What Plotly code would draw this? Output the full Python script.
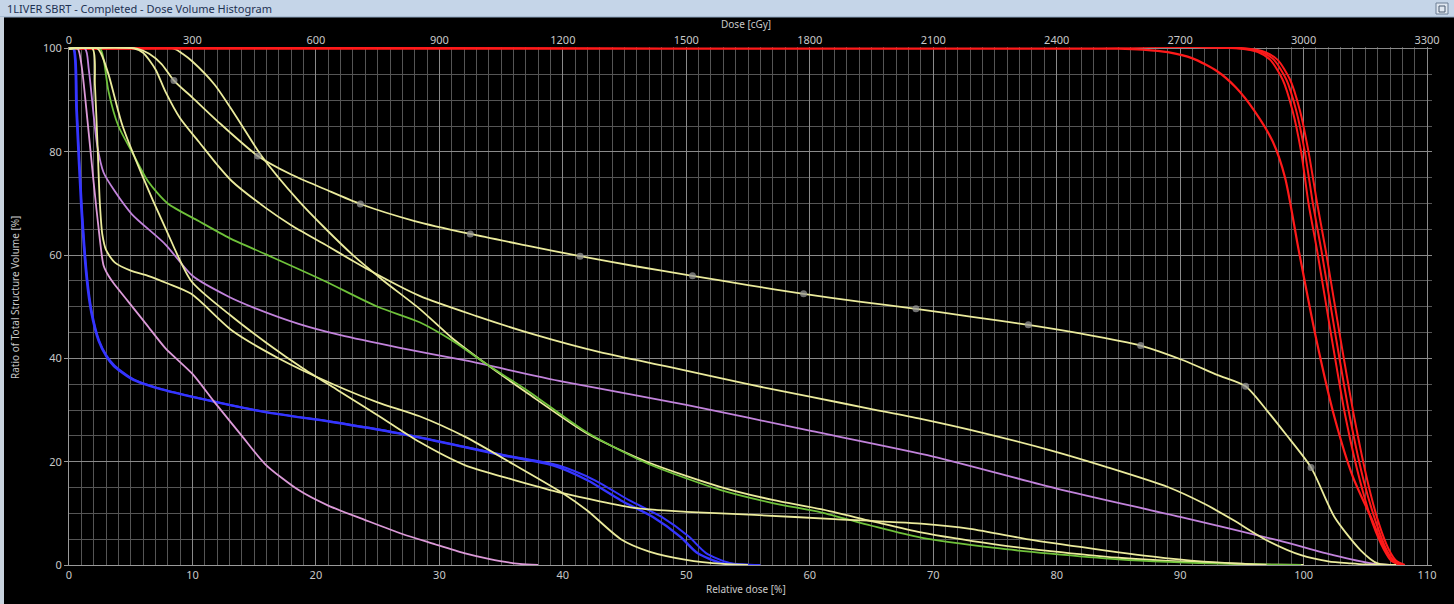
import plotly.graph_objects as go

# ---------------- data ----------------
rel_dose_ticks = [0, 10, 20, 30, 40, 50, 60, 70, 80, 90, 100, 110]
dose_cgy_ticks = [0, 300, 600, 900, 1200, 1500, 1800, 2100, 2400, 2700, 3000, 3300]
volume_ticks = [0, 20, 40, 60, 80, 100]

# yellow structure that leaves 100% latest (drawn beneath the PTV curves)
yc_x = [0, 8.5, 9.2, 10, 11.8, 13.5, 15.6, 18.6, 20.7, 23, 25.5, 28.4, 31, 33.8, 37, 42, 47, 52.8, 57, 60.9, 65, 69, 75, 79.5, 85, 89, 94, 98, 100]
yc_y = [100, 100, 99, 97.5, 93, 87, 79.2, 70.5, 65.3, 60, 55, 49.6, 44, 38.9, 33.5, 25.4, 19.8, 15.1, 12.6, 10.8, 8.5, 6.3, 4.0, 2.7, 1.4, 0.8, 0.3, 0.05, 0]

# PTV curves (red)
r1_x = [0, 85, 87, 89, 91, 93, 94.5, 96, 97.5, 98.5, 99.6, 101, 102.5, 104, 105.5, 106.5, 107.3, 108]
r1_y = [100, 100, 99.8, 99.3, 98.1, 95.6, 92.5, 88, 82, 75, 61, 44, 28.6, 17, 9, 3.5, 0.8, 0]
r2_x = [0, 94.8, 96.3, 97.3, 98.3, 99.1, 99.8, 100.4, 101.1, 102.2, 103.4, 104.6, 105.6, 106.5, 107.1, 107.8]
r2_y = [100, 100, 99.3, 97.8, 94, 88, 80, 70, 60.8, 45, 28.6, 16, 8, 3, 0.8, 0]
r3_x = [0, 95.1, 96.6, 97.6, 98.6, 99.4, 100.1, 100.75, 101.45, 102.55, 103.75, 104.9, 105.9, 106.7, 107.3, 108]
r3_y = [100, 100, 99.3, 97.8, 94, 88, 80, 70, 60.8, 45, 28.6, 16, 8, 3, 0.8, 0]
r4_x = [0, 95.4, 96.9, 97.9, 98.9, 99.7, 100.4, 101.1, 101.8, 102.9, 104.1, 105.2, 106.1, 106.9, 107.5, 108.2]
r4_y = [100, 100, 99.3, 97.8, 94, 88, 80, 70, 60.8, 45, 28.6, 16, 8, 3, 0.8, 0]

# blue structures
b1_x = [0, 0.35, 0.6, 1.0, 1.45, 1.8, 2.4, 3.0, 3.6, 5.1, 7.5, 10.1, 15.9, 21.3, 26.7, 32.1, 35.2, 39.2, 42, 44.7, 47.3, 49.5, 50.9, 52.8, 55]
b1_y = [100, 100, 88, 69, 55, 49, 43.4, 40.5, 38.6, 36, 34, 32.5, 29.6, 27.7, 25.5, 22.8, 21.2, 19.3, 16.4, 12.5, 9.3, 5.5, 2.3, 0.4, 0]
b2_x = [0, 0.4, 0.65, 1.05, 1.5, 1.85, 2.45, 3.05, 3.7, 5.2, 7.6, 10.2, 16, 21.4, 26.8, 32.2, 35.4, 39.6, 42.6, 45.4, 48, 50.2, 51.6, 53.5, 56]
b2_y = [100, 100, 88, 69, 55, 49, 43.4, 40.5, 38.6, 36, 34, 32.5, 29.6, 27.7, 25.5, 22.8, 21.2, 19.3, 16.4, 12.5, 9.3, 5.5, 2.3, 0.4, 0]

# pink / lavender structures
p1_x = [0, 0.7, 1.0, 1.5, 2.0, 2.5, 2.8, 3.2, 3.6, 4.8, 6.3, 7.8, 10, 11.8, 14, 15.9, 18.6, 21, 24, 27, 29.4, 32, 34, 36.5, 38]
p1_y = [100, 100, 97, 86, 74, 63, 58, 56, 54.6, 51, 46.5, 42, 37, 31.5, 25, 19.5, 14.5, 11.5, 8.7, 6, 4.2, 2.3, 1.2, 0.2, 0]
p2_x = [0, 1.3, 1.6, 2.0, 2.3, 2.8, 3.7, 5.1, 7.8, 10, 12.9, 15, 18.6, 22, 26.7, 32.1, 40, 50, 60, 70, 80, 90, 97.9, 102.4, 105.5, 107]
p2_y = [100, 100, 96, 87, 81, 76, 72.4, 67.9, 62.1, 56, 52, 49.8, 46.7, 44.5, 42.1, 39.6, 35.5, 31, 26, 21, 14.8, 9.3, 4.8, 1.9, 0.3, 0]

# green structure
g_x = [0, 2.5, 2.8, 3.2, 4.0, 5.1, 6.4, 8, 10.5, 13, 15.9, 20.7, 25, 28.4, 31, 33.8, 37, 42, 47, 52.8, 57, 60.9, 65, 69, 75, 79.5, 85, 89, 94, 99.8]
g_y = [100, 100, 98, 91.7, 85, 80, 74.3, 70, 66.6, 63.3, 60.2, 55, 50, 47, 43.5, 38.9, 34, 25.6, 19.5, 14.5, 12, 10.2, 7.6, 5.3, 3.3, 2.2, 1.1, 0.6, 0.2, 0]

# other yellow structures
yd_x = [0, 2.3, 2.6, 3.2, 4.3, 5.9, 7.8, 9.9, 13, 16, 19, 21.8, 25, 28.4, 32.1, 36, 40, 46, 50, 55.5, 62, 69, 73, 78.1, 84, 89, 93, 97]
yd_y = [100, 100, 99, 95, 85.3, 75.6, 65.3, 55, 48.5, 43, 38, 33.8, 29, 23.8, 19.3, 16.5, 13.9, 11, 10.3, 9.7, 8.9, 8, 7, 4.8, 2.8, 1.3, 0.5, 0]
ye_x = [0, 1.9, 2.1, 2.3, 2.5, 2.7, 3.0, 3.7, 5, 6.4, 8, 9.9, 13.2, 17, 21.3, 25, 28.4, 32.1, 36, 40, 42, 44.7, 47, 50, 53, 55]
ye_y = [100, 100, 93, 82, 70, 64, 61, 58.6, 57, 56, 54.5, 52.5, 45.4, 40, 35.1, 31.5, 28.8, 24.8, 19.5, 13.9, 10.5, 5, 2.6, 1, 0.2, 0]
yb_x = [0, 5.3, 6, 7, 7.8, 9, 10.5, 12, 13.2, 15.9, 18, 20.7, 24, 28.4, 33, 38, 43, 48.7, 55, 60, 65, 69, 74, 79.5, 84, 89, 92, 94.3, 97, 99.8, 102, 103.8, 105, 107]
yb_y = [100, 100, 99.2, 96, 91.7, 86.5, 82, 77.5, 74.3, 69.2, 65.8, 62.1, 57.5, 52.1, 48.2, 44.4, 41.2, 38.3, 35, 32.6, 30.2, 28.3, 25.6, 22.2, 19, 15.1, 11.8, 8.7, 4.8, 1.9, 0.7, 0.3, 0.1, 0]
ym_x = [0, 5.5, 6.5, 7.5, 8.5, 10, 12, 15.3, 18, 20.7, 23.6, 28, 32.5, 37, 41.4, 46, 50.5, 55, 59.5, 64, 68.6, 73, 77.7, 82, 86.8, 90.3, 93, 95.3, 97, 98.5, 100.6, 102.5, 104.6, 106, 107.5]
ym_y = [100, 100, 99, 97, 93.8, 90.5, 86, 79.2, 75.6, 72.8, 69.9, 66.6, 64.1, 61.9, 59.8, 57.8, 56, 54.2, 52.5, 51, 49.6, 48.1, 46.5, 44.8, 42.5, 39.6, 36.8, 34.6, 30, 25.5, 18.9, 9.3, 2.9, 0.3, 0]
mark_x = [8.5, 15.3, 23.6, 32.5, 41.4, 50.5, 59.5, 68.6, 77.7, 86.8, 95.3, 100.6]
mark_y = [93.8, 79.2, 69.9, 64.1, 59.8, 56, 52.5, 49.6, 46.5, 42.5, 34.6, 18.9]

# ---------------- styling ----------------
RED = "#ff1a1a"
BLUE = "#3535ff"
PINK1 = "#dc9ad8"
PINK2 = "#c283dc"
GREEN = "#6fc23a"
YELLOW = "#ebeb9c"
TICK = "#c8c8c8"
FONT = "Noto Sans"

fig = go.Figure()


def add(x, y, color, width=1.8):
    fig.add_trace(go.Scatter(x=x, y=y, mode="lines", line=dict(color=color, width=width, shape="spline", smoothing=0.7),
                             hoverinfo="skip", showlegend=False))


add(yc_x, yc_y, YELLOW)
add(r1_x, r1_y, RED, 2.2)
add(r2_x, r2_y, RED, 2.0)
add(r3_x, r3_y, RED, 2.0)
add(r4_x, r4_y, RED, 2.0)
add(b1_x, b1_y, BLUE, 2.4)
add(b2_x, b2_y, BLUE, 2.0)
add(p1_x, p1_y, PINK1)
add(p2_x, p2_y, PINK2)
add(g_x, g_y, GREEN)
add(yd_x, yd_y, YELLOW)
add(ye_x, ye_y, YELLOW)
add(yb_x, yb_y, YELLOW)
add(ym_x, ym_y, YELLOW)
fig.add_trace(go.Scatter(x=mark_x, y=mark_y, mode="markers",
                         marker=dict(size=7, color="rgba(150,150,150,0.75)"),
                         hoverinfo="skip", showlegend=False))
# invisible trace to anchor the top (cGy) axis
fig.add_trace(go.Scatter(x=[0], y=[0], xaxis="x2", mode="markers", marker=dict(opacity=0),
                         hoverinfo="skip", showlegend=False))

XMAX = 110.4
L, R, T, B = 69, 22, 47, 39
W, H = 1454, 604
pw, ph = W - L - R, H - T - B


def px(xp):
    return (xp - L) / pw


def py(yp):
    return (H - B - yp) / ph


fig.update_layout(
    width=W, height=H,
    margin=dict(l=L, r=R, t=T, b=B, autoexpand=False),
    paper_bgcolor="#000000", plot_bgcolor="#000000",
    font=dict(family=FONT, size=11, color=TICK),
    xaxis=dict(range=[0, XMAX], tickvals=rel_dose_ticks, ticktext=[str(v) for v in rel_dose_ticks],
               showgrid=True, gridcolor="#8a8a8a", gridwidth=1, automargin=False,
               minor=dict(dtick=1, showgrid=True, gridcolor="#555555", gridwidth=1),
               showline=True, linecolor="#9a9a9a", linewidth=1, zeroline=False,
               ticks="", tickfont=dict(size=11, color=TICK, family=FONT)),
    xaxis2=dict(overlaying="x", side="top", range=[0, XMAX * 30], tickvals=dose_cgy_ticks,
                ticktext=[str(v) for v in dose_cgy_ticks], showgrid=False, zeroline=False, automargin=False,
                ticks="", tickfont=dict(size=11, color=TICK, family=FONT), showline=False),
    yaxis=dict(range=[0, 100.3], tickvals=volume_ticks, showgrid=True, gridcolor="#8a8a8a", gridwidth=1,
               minor=dict(dtick=5, showgrid=True, gridcolor="#555555", gridwidth=1),
               showline=True, linecolor="#9a9a9a", linewidth=1, zeroline=False, automargin=False,
               ticks="outside", ticklen=4, tickcolor="#9a9a9a",
               tickfont=dict(size=11, color=TICK, family=FONT)),
    shapes=[
        dict(type="rect", xref="paper", yref="paper", x0=px(0), x1=px(W), y0=py(17), y1=py(0),
             fillcolor="#c5d5e8", line=dict(width=0), layer="above"),
        dict(type="line", xref="paper", yref="paper", x0=px(0), x1=px(W), y0=py(17), y1=py(17),
             line=dict(color="#8fa6c0", width=1), layer="above"),
        dict(type="rect", xref="paper", yref="paper", x0=px(0), x1=px(4), y0=py(H), y1=py(17),
             fillcolor="#c9d3de", line=dict(width=0), layer="above"),
        dict(type="rect", xref="paper", yref="paper", x0=px(1436), x1=px(1448), y0=py(14), y1=py(3),
             fillcolor="#dfe7f0", line=dict(color="#6d7f95", width=1), layer="above"),
        dict(type="rect", xref="paper", yref="paper", x0=px(1439), x1=px(1445), y0=py(12), y1=py(6),
             fillcolor="rgba(0,0,0,0)", line=dict(color="#4a5a70", width=1), layer="above"),
    ],
    annotations=[
        dict(text="1LIVER SBRT - Completed - Dose Volume Histogram", xref="paper", yref="paper",
             x=px(5), y=py(8.5), xanchor="left", yanchor="middle", showarrow=False,
             font=dict(family=FONT, size=11, color="#1d3152")),
        dict(text="Dose [cGy]", xref="paper", yref="paper", x=px(746), y=py(24), xanchor="center",
             yanchor="middle", showarrow=False, font=dict(family=FONT, size=10, color=TICK)),
        dict(text="Relative dose [%]", xref="paper", yref="paper", x=px(746), y=py(589), xanchor="center",
             yanchor="middle", showarrow=False, font=dict(family=FONT, size=10, color=TICK)),
        dict(text="Ratio of Total Structure Volume [%]", xref="paper", yref="paper", x=px(15), y=py(298),
             xanchor="center", yanchor="middle", textangle=-90, showarrow=False,
             font=dict(family=FONT, size=10, color=TICK)),
    ],
)

fig.write_html("out.html", config={"displayModeBar": False},
               post_script="document.body.style.margin='0';document.body.style.padding='0';"
                           "document.body.style.background='#000';document.body.style.overflow='hidden';")
